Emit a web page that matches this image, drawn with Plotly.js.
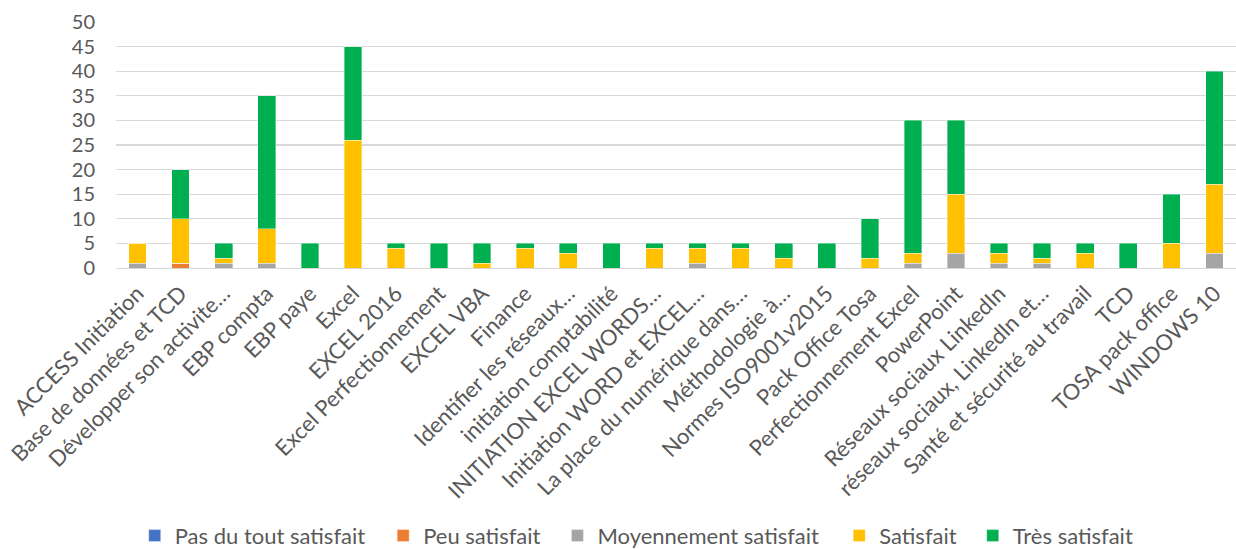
<!DOCTYPE html>
<html>
<head>
<meta charset="utf-8">
<script src="https://cdn.plot.ly/plotly-3.0.1.min.js"></script>
<style>html,body{margin:0;padding:0;background:#fff;}#chart{width:1236px;height:549px;}</style>
</head>
<body>
<div id="chart"></div>
<script>
const categories = [
  "ACCESS Initiation", "Base de données et TCD", "Développer son activite…", "EBP compta",
  "EBP paye", "Excel", "EXCEL 2016", "Excel Perfectionnement", "EXCEL VBA", "Finance",
  "Identifier les réseaux…", "initiation comptabilité", "INITIATION EXCEL WORDS…",
  "Initiation WORD et EXCEL…", "La place du numérique dans…", "Méthodologie à…",
  "Normes ISO9001v2015", "Pack Office Tosa", "Perfectionnement Excel", "PowerPoint",
  "Réseaux sociaux LinkedIn", "réseaux sociaux, LinkedIn et…", "Santé et sécurité au travail",
  "TCD", "TOSA pack office", "WINDOWS 10"
];
const pasDuTout   = [0,0,0,0,0,0,0,0,0,0,0,0,0,0,0,0,0,0,0,0,0,0,0,0,0,0];
const peu         = [0,1,0,0,0,0,0,0,0,0,0,0,0,0,0,0,0,0,0,0,0,0,0,0,0,0];
const moyennement = [1,0,1,1,0,0,0,0,0,0,0,0,0,1,0,0,0,0,1,3,1,1,0,0,0,3];
const satisfait   = [4,9,1,7,0,26,4,0,1,4,3,0,4,3,4,2,0,2,2,12,2,1,3,0,5,14];
const tres        = [0,10,3,27,5,19,1,5,4,1,2,5,1,1,1,3,5,8,27,15,2,3,2,5,10,23];
const seriesNames = ["Pas du tout satisfait", "Peu satisfait", "Moyennement satisfait", "Satisfait", "Très satisfait"];
const seriesValues = [pasDuTout, peu, moyennement, satisfait, tres];
const seriesColors = ["#4472C4", "#ED7D31", "#A5A5A5", "#FFC000", "#00B050"];
const yTicks = [0,5,10,15,20,25,30,35,40,45,50];

const FONT = "Lato, sans-serif";
// legend entry left positions (fraction of page width), one legend per series
const legendX = [0.109, 0.310, 0.451, 0.679, 0.787];
const legendIds = ['legend', 'legend2', 'legend3', 'legend4', 'legend5'];

const traces = seriesNames.map((n, i) => ({
  type: 'bar', name: n, x: categories, y: seriesValues[i], legend: legendIds[i],
  marker: {color: seriesColors[i], line: {color: 'rgba(255,255,255,0.6)', width: 0.6}},
  hoverinfo: 'x+y+name'
}));

const layout = {
  barmode: 'stack',
  bargap: 0.59,
  width: 1236, height: 549,
  margin: {l: 116, r: 0, t: 22, b: 281, autoexpand: false},
  paper_bgcolor: '#fff', plot_bgcolor: '#fff',
  font: {family: FONT, color: '#595959', size: 20},
  xaxis: {
    type: 'category', tickangle: -45, tickfont: {size: 22, color: '#595959', family: FONT},
    showgrid: false, showline: true, linecolor: '#d9d9d9', linewidth: 1, ticks: '', automargin: false,
    ticklabelstandoff: 3
  },
  yaxis: {
    range: [0, 50], tickvals: yTicks, tickfont: {size: 20, color: '#595959', family: FONT},
    showgrid: true, gridcolor: '#d9d9d9', gridwidth: 1.3, zeroline: false, ticks: '', showline: false,
    ticklabelstandoff: 20, automargin: false
  },
  showlegend: true
};
legendIds.forEach((id, i) => {
  layout[id] = {
    orientation: 'h', x: legendX[i], xanchor: 'left', xref: 'container',
    y: 0.024, yanchor: 'middle', yref: 'container', bgcolor: 'rgba(0,0,0,0)',
    font: {size: 22, color: '#595959', family: FONT}, itemwidth: 30
  };
});
Plotly.newPlot('chart', traces, layout, {displayModeBar: false, staticPlot: true});
</script>
</body>
</html>
